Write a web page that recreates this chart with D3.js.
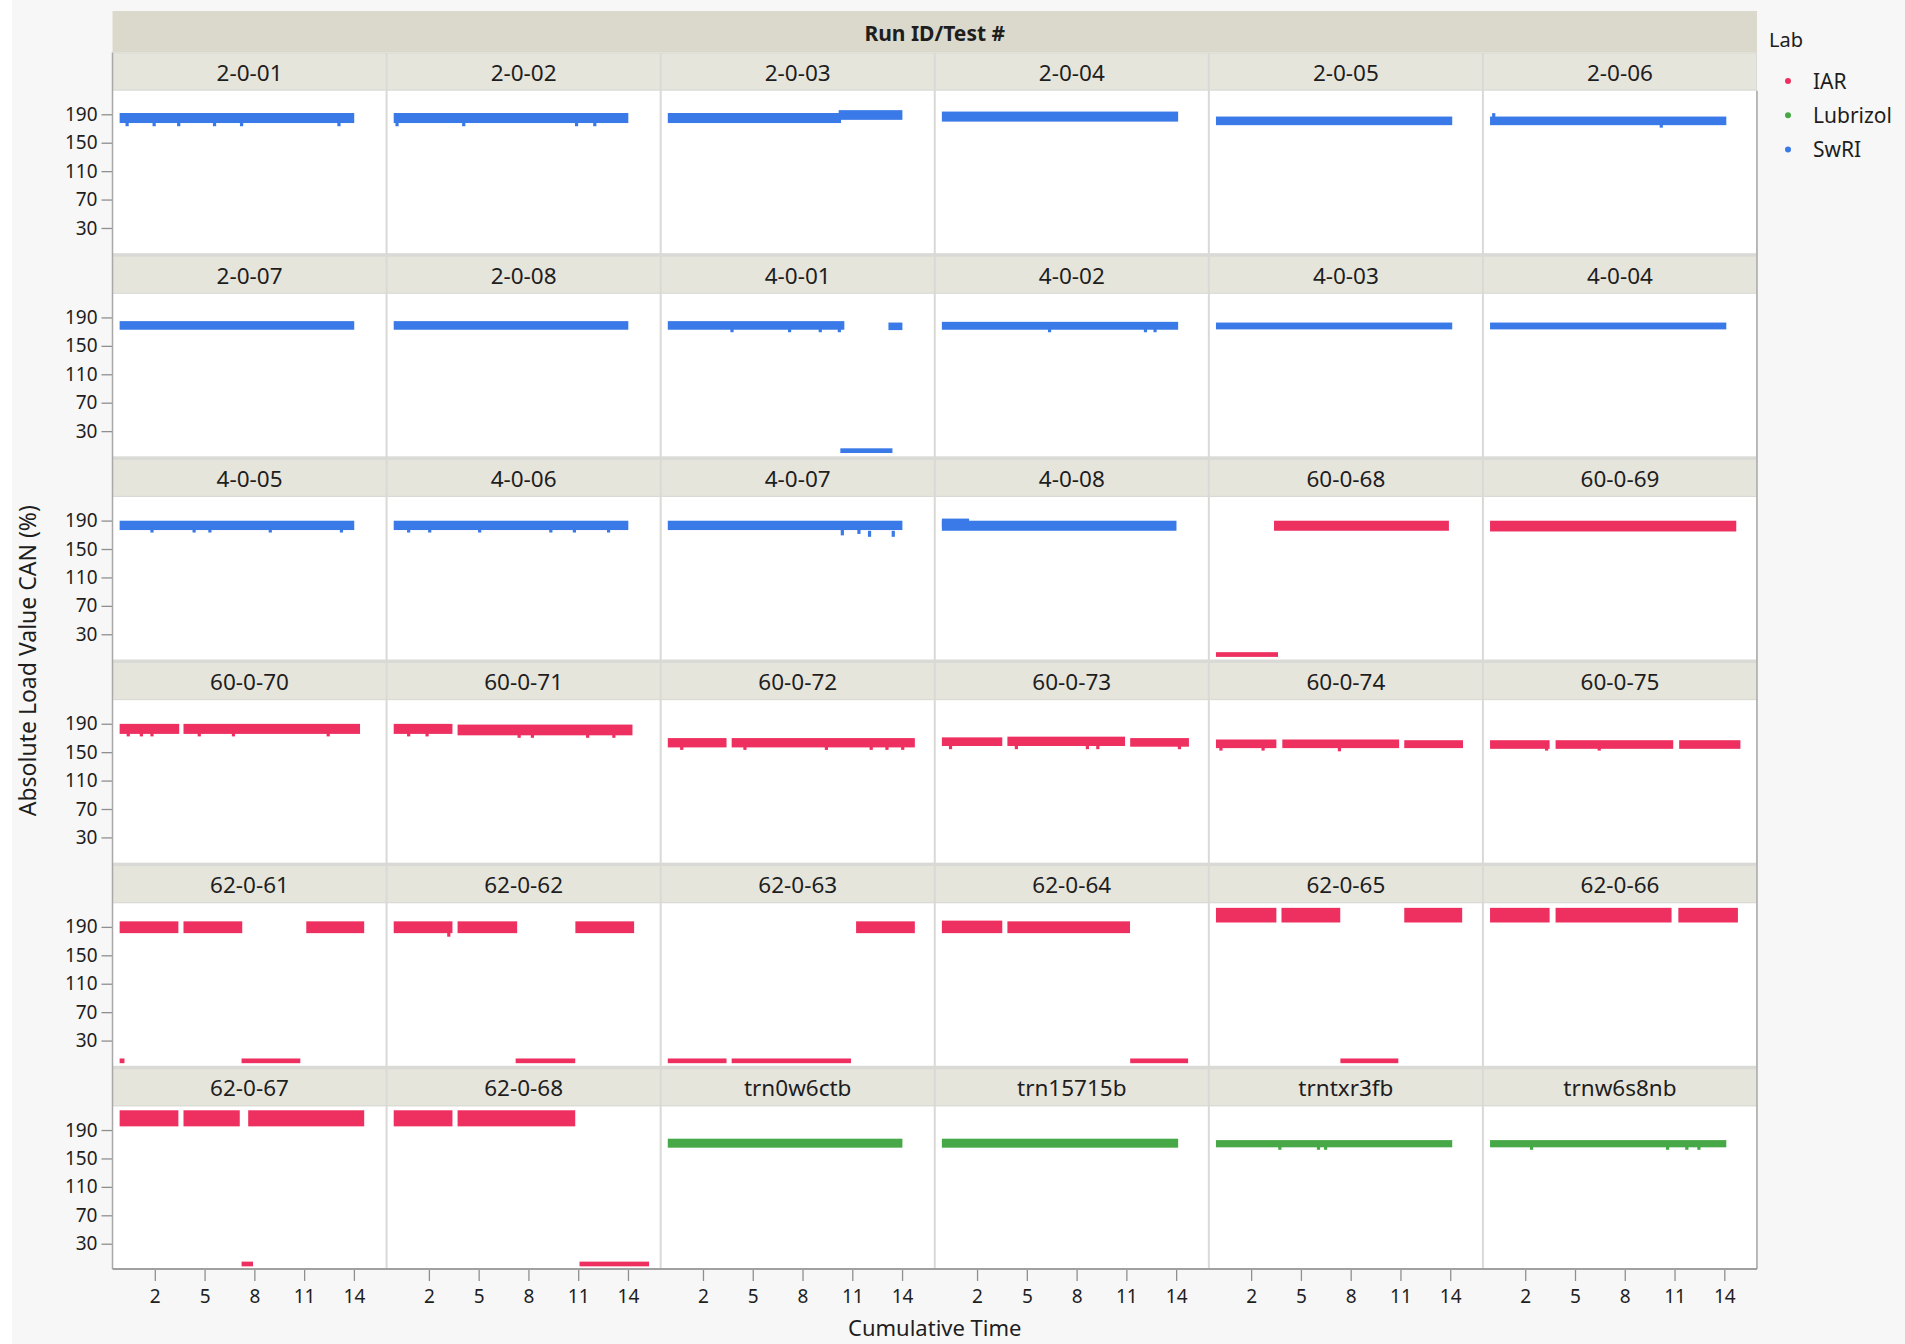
<!DOCTYPE html>
<html><head><meta charset="utf-8">
<script src="https://cdn.jsdelivr.net/npm/d3@7"></script>
<style>
html,body{margin:0;padding:0;background:#f7f7f7;}
svg{display:block;}
text{font-family:"Noto Sans","Open Sans",sans-serif;fill:#1e1e1e;}
</style></head><body>
<svg id="chart" width="1905" height="1344"></svg>
<script>
// ---------- data ----------
const tests = ["2-0-01","2-0-02","2-0-03","2-0-04","2-0-05","2-0-06",
  "2-0-07","2-0-08","4-0-01","4-0-02","4-0-03","4-0-04",
  "4-0-05","4-0-06","4-0-07","4-0-08","60-0-68","60-0-69",
  "60-0-70","60-0-71","60-0-72","60-0-73","60-0-74","60-0-75",
  "62-0-61","62-0-62","62-0-63","62-0-64","62-0-65","62-0-66",
  "62-0-67","62-0-68","trn0w6ctb","trn15715b","trntxr3fb","trnw6s8nb"];
const testLab = ["SwRI","SwRI","SwRI","SwRI","SwRI","SwRI",
  "SwRI","SwRI","SwRI","SwRI","SwRI","SwRI",
  "SwRI","SwRI","SwRI","SwRI","IAR","IAR",
  "IAR","IAR","IAR","IAR","IAR","IAR",
  "IAR","IAR","IAR","IAR","IAR","IAR",
  "IAR","IAR","Lubrizol","Lubrizol","Lubrizol","Lubrizol"];
const labNames = ["IAR","Lubrizol","SwRI"];
const labColors = ["#ee3060","#47a847","#3a7ae8"];
const xTicks = [2,5,8,11,14];
const yTicks = [30,70,110,150,190];

// dense runs of points: [test, time start, time end, load low, load high]
const segments = [
  ["2-0-01",0,13.9,180.5,189],
  ["2-0-02",0,13.9,180.5,189],
  ["2-0-03",0,10.2,180.5,189],["2-0-03",10.3,13.9,185,193],
  ["2-0-04",0,14.0,182.5,191],
  ["2-0-05",0,14.0,177.5,184],
  ["2-0-06",0,14.0,177.5,184],
  ["2-0-07",0,13.9,175.5,182],
  ["2-0-08",0,13.9,175.5,182],
  ["4-0-01",0,10.4,175.5,182],["4-0-01",13.3,13.9,175,180],["4-0-01",10.4,13.3,2,3],
  ["4-0-02",0,14.0,175.5,181],
  ["4-0-03",0,14.0,176,180],
  ["4-0-04",0,14.0,176,180],
  ["4-0-05",0,13.9,179.5,187],
  ["4-0-06",0,13.9,179.5,187],
  ["4-0-07",0,13.9,179.5,187],
  ["4-0-08",0,13.9,178.5,187],["4-0-08",0,1.4,183,190],
  ["60-0-68",3.5,13.8,178.5,187],["60-0-68",0,3.5,1,2],
  ["60-0-69",0,14.6,177.5,187],
  ["60-0-70",0,3.35,178.5,187],["60-0-70",3.85,14.25,178.5,187],
  ["60-0-71",0,3.3,178.5,187],["60-0-71",3.85,14.15,176.5,186],
  ["60-0-72",0,3.3,159.5,167],["60-0-72",3.85,14.65,159.5,167],
  ["60-0-73",0,3.4,161.5,168],["60-0-73",3.95,10.8,161.5,169],["60-0-73",11.35,14.65,160.5,167],
  ["60-0-74",0,3.4,158.5,165],["60-0-74",4.0,10.8,158.5,165],["60-0-74",11.35,14.65,158.5,164],
  ["60-0-75",0,3.35,157.5,164],["60-0-75",3.95,10.8,157.5,164],["60-0-75",11.4,14.85,157.5,164],
  ["62-0-61",0,3.3,184,195],["62-0-61",3.85,7.15,184,195],["62-0-61",11.25,14.5,184,195],
  ["62-0-61",7.35,10.65,1,2],["62-0-61",0,0.05,1,2],
  ["62-0-62",0,3.3,184,195],["62-0-62",3.85,7.2,184,195],["62-0-62",10.95,14.25,184,195],
  ["62-0-62",7.35,10.7,1,2],
  ["62-0-63",11.35,14.65,184,195],["62-0-63",0,3.3,1,2],["62-0-63",3.85,10.8,1,2],
  ["62-0-64",0,3.4,184,196],["62-0-64",3.95,11.1,184,195],["62-0-64",11.35,14.6,1,2],
  ["62-0-65",0,3.4,199,214],["62-0-65",3.95,7.25,199,214],["62-0-65",11.35,14.6,199,214],
  ["62-0-65",7.5,10.75,1,2],
  ["62-0-66",0,3.35,199,214],["62-0-66",3.95,10.7,199,214],["62-0-66",11.35,14.7,199,214],
  ["62-0-67",0,3.3,198,215],["62-0-67",3.85,7.0,198,215],["62-0-67",7.75,14.5,198,215],
  ["62-0-67",7.35,7.8,1,2],
  ["62-0-68",0,3.3,198,215],["62-0-68",3.85,10.7,198,215],["62-0-68",11.2,15.15,1,2],
  ["trn0w6ctb",0,13.9,168,175],
  ["trn15715b",0,14.0,168,175],
  ["trntxr3fb",0,14.0,168.5,173],
  ["trnw6s8nb",0,14.0,168.5,173]
];

// isolated low points just under the runs: [test, time, load]
const dips = [
  ["2-0-01",0.33,176],["2-0-01",1.96,176],["2-0-01",3.44,176],["2-0-01",5.6,176],["2-0-01",7.23,176],["2-0-01",13.1,176],
  ["2-0-02",0.08,176],["2-0-02",4.1,176],["2-0-02",10.9,176],["2-0-02",12.0,176],
  ["2-0-06",0.1,186],["2-0-06",10.2,174],
  ["4-0-01",3.75,172],["4-0-01",7.22,172],["4-0-01",9.07,172],["4-0-01",10.22,172],
  ["4-0-02",6.37,172],["4-0-02",12.15,172],["4-0-02",12.73,172],
  ["4-0-05",1.83,176],["4-0-05",4.37,176],["4-0-05",5.32,176],["4-0-05",8.96,176],["4-0-05",13.25,176],
  ["4-0-06",0.78,176],["4-0-06",2.05,176],["4-0-06",5.06,176],["4-0-06",9.35,176],["4-0-06",10.77,176],["4-0-06",12.83,176],
  ["4-0-07",10.4,172],["4-0-07",11.4,174],["4-0-07",12.04,170],["4-0-07",13.47,170],
  ["60-0-70",0.4,175],["60-0-70",1.19,175],["60-0-70",1.83,175],["60-0-70",4.68,175],["60-0-70",6.74,175],["60-0-70",12.45,175],
  ["60-0-71",0.78,175],["60-0-71",1.89,175],["60-0-71",7.44,173],["60-0-71",8.24,173],["60-0-71",11.57,173],["60-0-71",13.15,173],
  ["60-0-72",0.72,156],["60-0-72",4.53,156],["60-0-72",9.44,156],["60-0-72",12.14,156],["60-0-72",13.09,156],["60-0-72",14.04,156],
  ["60-0-73",0.4,157],["60-0-73",4.37,157],["60-0-73",8.65,157],["60-0-73",9.28,157],["60-0-73",14.2,157],
  ["60-0-74",0.18,155],["60-0-74",2.72,155],["60-0-74",7.32,154],
  ["60-0-75",3.29,155],["60-0-75",6.46,155],
  ["62-0-62",3.2,179],
  ["trntxr3fb",3.73,165],["trntxr3fb",6.06,165],["trntxr3fb",6.49,165],
  ["trnw6s8nb",2.38,165],["trnw6s8nb",10.58,165],["trnw6s8nb",11.74,165],["trnw6s8nb",12.47,165]
];

// ---------- layout ----------
const W = 1905, H = 1344;
const ncol = 6;
const plotL = 112.5, plotR = 1757;
const colPitch = (plotR - plotL) / ncol;
const headerTop = 11, stripTop0 = 52.5, rowPitch = 203.15, stripH = 38.2, panelH = 162.5;
const nrow = Math.ceil(tests.length / ncol);
const plotBottom = stripTop0 + (nrow - 1) * rowPitch + stripH + panelH;

const svg = d3.select("#chart");
svg.append("rect").attr("width", W).attr("height", H).attr("fill", "#f7f7f7");
svg.append("rect").attr("width", 12).attr("height", H).attr("fill", "#ffffff");

const color = d3.scaleOrdinal().domain(labNames).range(labColors);
const x = d3.scaleLinear().domain([-0.55, 15.85]).range([0, colPitch - 2]);
const y = d3.scaleLinear().domain([-5.5, 223.2]).range([panelH, 0]);

// separator background and header
svg.append("rect").attr("x", plotL).attr("y", stripTop0)
  .attr("width", plotR - plotL).attr("height", plotBottom - stripTop0).attr("fill", "#d9d9d6");
svg.append("rect").attr("x", plotL).attr("y", headerTop)
  .attr("width", plotR - plotL).attr("height", stripTop0 - headerTop).attr("fill", "#dbd9cc");
svg.append("text").attr("x", (plotL + plotR) / 2).attr("y", (headerTop + stripTop0) / 2 + 1)
  .attr("text-anchor", "middle").attr("dominant-baseline", "central")
  .style("font-size", "21px").style("font-weight", "bold").text("Run ID/Test #");

const pad = 2; // marker radius in px

tests.forEach((t, i) => {
  const r = Math.floor(i / ncol), c = i % ncol;
  const gx = plotL + c * colPitch, gy = stripTop0 + r * rowPitch + stripH;
  const g = svg.append("g").attr("transform", `translate(${gx},${gy})`);
  g.append("rect").attr("x", c === 0 ? 0 : 1).attr("y", -stripH + 1)
    .attr("width", colPitch - (c === 0 ? 1 : 2)).attr("height", stripH - 2.2).attr("fill", "#e6e5dc");
  g.append("text").attr("x", (colPitch) / 2).attr("y", -stripH / 2 + 0.5)
    .attr("text-anchor", "middle").attr("dominant-baseline", "central")
    .style("font-size", "22.5px").text(t);
  g.append("rect").attr("x", c === 0 ? 0 : 1).attr("y", 0)
    .attr("width", colPitch - (c === 0 ? 1 : 2)).attr("height", panelH).attr("fill", "#ffffff");
  const col = color(testLab[i]);
  const clip = "clip" + i;
  g.append("clipPath").attr("id", clip).append("rect")
    .attr("x", 1).attr("y", 0).attr("width", colPitch - 3).attr("height", panelH);
  const pg = g.append("g").attr("clip-path", `url(#${clip})`);
  pg.selectAll("rect.seg").data(segments.filter(s => s[0] === t)).join("rect")
    .attr("class", "seg")
    .attr("x", d => x(d[1]) - pad)
    .attr("width", d => x(d[2]) - x(d[1]) + 2 * pad)
    .attr("y", d => y(d[4]) - pad)
    .attr("height", d => y(d[3]) - y(d[4]) + 2 * pad)
    .attr("fill", col);
  pg.selectAll("rect.dip").data(dips.filter(s => s[0] === t)).join("rect")
    .attr("class", "dip")
    .attr("x", d => x(d[1]) - 1.6)
    .attr("width", 3.2)
    .attr("y", d => y(d[2]) - 4)
    .attr("height", 6)
    .attr("fill", col);

  if (c === 0) {
    const ya = g.append("g").call(d3.axisLeft(y).tickValues(yTicks).tickSize(11).tickPadding(4));
    ya.select(".domain").remove();
    ya.selectAll(".tick line").attr("stroke", "#8f8f8f").attr("stroke-width", 1.3);
    ya.selectAll(".tick text").style("font-size", "19px").attr("fill", "#1e1e1e")
      .style("font-family", '"Noto Sans","Open Sans",sans-serif');
  }
  if (r === nrow - 1) {
    const xa = g.append("g").attr("transform", `translate(0,${panelH})`)
      .call(d3.axisBottom(x).tickValues(xTicks).tickSize(12).tickPadding(9));
    xa.select(".domain").remove();
    xa.selectAll(".tick line").attr("stroke", "#8f8f8f").attr("stroke-width", 1.3);
    xa.selectAll(".tick text").style("font-size", "19px").attr("fill", "#1e1e1e")
      .style("font-family", '"Noto Sans","Open Sans",sans-serif');
  }
});

// frame lines
svg.append("line").attr("x1", plotL).attr("x2", plotL).attr("y1", stripTop0).attr("y2", plotBottom)
  .attr("stroke", "#a8a8a8").attr("stroke-width", 1.5);
svg.append("line").attr("x1", plotR).attr("x2", plotR).attr("y1", stripTop0 + stripH).attr("y2", plotBottom)
  .attr("stroke", "#a8a8a8").attr("stroke-width", 1.5);
svg.append("line").attr("x1", plotL).attr("x2", plotR).attr("y1", plotBottom).attr("y2", plotBottom)
  .attr("stroke", "#a0a0a0").attr("stroke-width", 2);

// axis titles
svg.append("text").attr("x", (plotL + plotR) / 2).attr("y", 1336)
  .attr("text-anchor", "middle")
  .style("font-size", "22px").text("Cumulative Time");
svg.append("text").attr("transform", `translate(27,${(stripTop0 + plotBottom) / 2}) rotate(-90)`)
  .attr("text-anchor", "middle").attr("dominant-baseline", "central")
  .style("font-size", "23px").text("Absolute Load Value CAN (%)");

// legend
const lg = svg.append("g");
lg.append("text").attr("x", 1769).attr("y", 39).attr("dominant-baseline", "central")
  .style("font-size", "20px").text("Lab");
labNames.forEach((n, k) => {
  const yy = 81 + k * 34.2;
  lg.append("circle").attr("cx", 1788).attr("cy", yy).attr("r", 3).attr("fill", labColors[k]);
  lg.append("text").attr("x", 1813).attr("y", yy).attr("dominant-baseline", "central")
    .style("font-size", "21px").text(n);
});
</script>
</body></html>
